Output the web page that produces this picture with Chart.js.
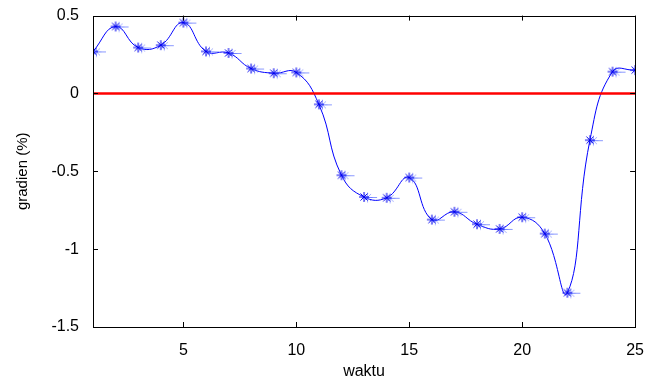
<!DOCTYPE html>
<html>
<head>
<meta charset="utf-8">
<script src="https://cdn.jsdelivr.net/npm/chart.js@4"></script>
<style>
  html, body { margin: 0; padding: 0; background: #fff; }
  #wrap { width: 650px; height: 381px; }
</style>
</head>
<body>
<div id="wrap"><canvas id="myChart" width="650" height="381"></canvas></div>
<script>
// x positions (waktu)
let waktu = [1,2,3,4,5,6,7,8,9,10,11,12,13,14,15,16,17,18,19,20,21,22,23,24,25];
// gradient values
let gradien = [0.27,0.43,0.295,0.31,0.455,0.27,0.26,0.16,0.13,0.135,-0.07,-0.525,-0.665,-0.67,-0.54,-0.81,-0.76,-0.84,-0.87,-0.795,-0.90,-1.28,-0.30,0.14,0.15];
// red reference line at zero
let nol = [0,0,0,0,0,0,0,0,0,0,0,0,0,0,0,0,0,0,0,0,0,0,0,0,0];
let xTicks = [5,10,15,20,25];
let yTicks = [0.5,0,-0.5,-1,-1.5];

// matlab-ish asterisk marker with a faint smear to the right
function makeMarker(){
  let c = document.createElement('canvas');
  c.width = 30; c.height = 14;
  let g = c.getContext('2d');
  function star(cx, cy, r, col){
    g.strokeStyle = col;
    g.lineWidth = 1;
    g.beginPath();
    for (let k = 0; k < 4; k++){
      let a = k * Math.PI / 4;
      g.moveTo(cx - r*Math.cos(a), cy - r*Math.sin(a));
      g.lineTo(cx + r*Math.cos(a), cy + r*Math.sin(a));
    }
    g.stroke();
  }
  star(18.5, 7.5, 5, 'rgba(90,110,255,0.55)');
  g.strokeStyle = 'rgba(90,110,255,0.7)';
  g.beginPath(); g.moveTo(14, 7.5); g.lineTo(28, 7.5); g.stroke();
  star(15, 7, 5, '#0000ee');
  return c;
}

// box around the axes + inward ticks like matlab
const boxPlugin = {
  id: 'box',
  afterDraw(chart){
    let ctx = chart.ctx, a = chart.chartArea;
    let xs = chart.scales.x, ys = chart.scales.y;
    ctx.save();
    ctx.strokeStyle = '#000';
    ctx.lineWidth = 1;
    ctx.strokeRect(Math.round(a.left)+0.5, Math.round(a.top)+0.5, Math.round(a.right-a.left), Math.round(a.bottom-a.top));
    ctx.beginPath();
    xTicks.forEach(v => {
      let px = Math.round(xs.getPixelForValue(v)) + 0.5;
      ctx.moveTo(px, a.bottom); ctx.lineTo(px, a.bottom - 5);
      ctx.moveTo(px, a.top); ctx.lineTo(px, a.top + 5);
    });
    yTicks.forEach(v => {
      let py = Math.round(ys.getPixelForValue(v)) + 0.5;
      ctx.moveTo(a.left, py); ctx.lineTo(a.left + 5, py);
      ctx.moveTo(a.right, py); ctx.lineTo(a.right - 5, py);
    });
    ctx.stroke();
    ctx.restore();
  }
};

function renderChart(){
  let ctx = document.getElementById('myChart');
  let marker = makeMarker();
  new Chart(ctx, {
    type: 'line',
    data: {
      labels: waktu,
      datasets: [
        {
          data: nol,
          borderColor: '#ff0000',
          borderWidth: 2.5,
          pointRadius: 0,
          fill: false
        },
        {
          data: gradien,
          borderColor: '#0000ff',
          borderWidth: 1,
          tension: 0.45,
          pointStyle: marker,
          pointRadius: 6,
          fill: false
        }
      ]
    },
    options: {
      responsive: false,
      animation: false,
      layout: { padding: { top: 15, right: 12, left: 14, bottom: 0 } },
      plugins: { legend: { display: false }, tooltip: { enabled: false } },
      scales: {
        x: {
          type: 'linear',
          min: 1, max: 25,
          afterBuildTicks: s => { s.ticks = xTicks.map(v => ({ value: v })); },
          afterFit: s => { s.height = 54; },
          grid: { display: false },
          border: { display: false },
          ticks: { color: '#000', padding: 6, maxRotation: 0, font: { family: 'Liberation Sans, Arial', size: 16 } },
          title: { display: true, text: 'waktu', color: '#000', padding: { top: 0, bottom: 0 }, font: { family: 'Liberation Sans, Arial', size: 16 } }
        },
        y: {
          min: -1.5, max: 0.5,
          afterBuildTicks: s => { s.ticks = yTicks.map(v => ({ value: v })); },
          afterFit: s => { s.width = 79; },
          grid: { display: false },
          border: { display: false },
          ticks: { color: '#000', padding: 6, callback: v => String(v), font: { family: 'Liberation Sans, Arial', size: 16 } },
          title: { display: true, text: 'gradien (%)', color: '#000', padding: { top: 0, bottom: 0 }, font: { family: 'Liberation Sans, Arial', size: 15 } }
        }
      }
    },
    plugins: [boxPlugin]
  });
}

renderChart();
</script>
</body>
</html>
